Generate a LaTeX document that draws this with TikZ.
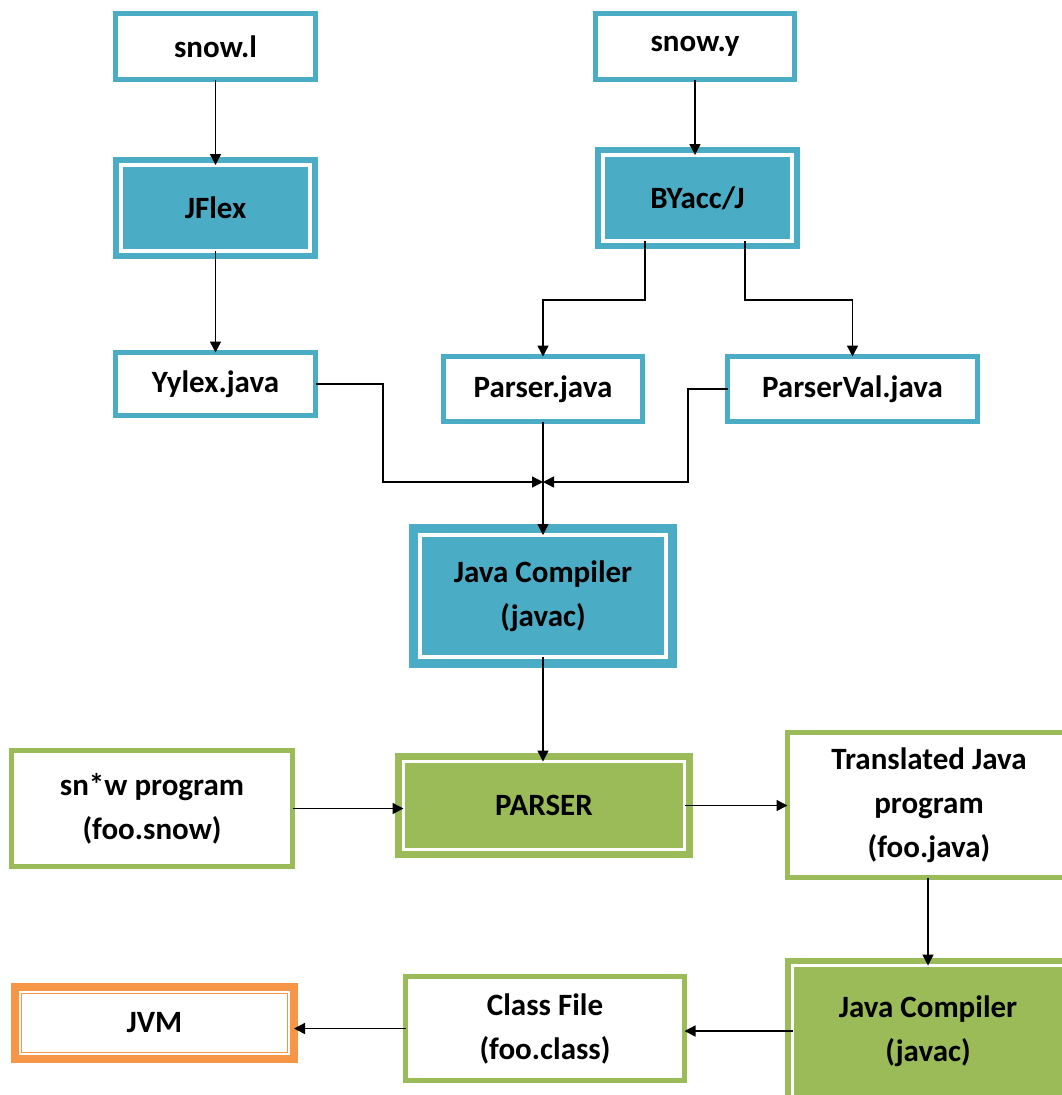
\documentclass[tikz,border=0pt]{standalone}
\usepackage{fontspec}
\setmainfont{Carlito}
\usetikzlibrary{arrows.meta}
\definecolor{teal1}{HTML}{4BACC6}
\definecolor{green1}{HTML}{9BBB59}
\definecolor{orange1}{HTML}{F79646}
\begin{document}
\begin{tikzpicture}[x=1pt,y=-1pt,
  every node/.style={font=\fontsize{31}{44}\selectfont\bfseries, align=center, inner sep=0pt, outer sep=0pt},
  plainbox/.style={draw=#1, fill=white, line width=5pt},
  dblbox/.style={draw=#1, fill=#1, double=white, line width=6pt, double distance=4pt},
  arr/.style={-{Triangle[length=11pt,width=11pt]}, line width=1.4pt, black}]
\clip (0,0) rectangle (1062,1095);
\fill[white] (0,0) rectangle (1062,1095);
% top row
\node[plainbox=teal1, minimum width=200pt, minimum height=66pt] (snowl) at (215.5,46.5) {snow.l};
\node[plainbox=teal1, minimum width=199pt, minimum height=66pt] (snowy) at (695,46.5) {snow.y};
% generators
\node[dblbox=teal1, minimum width=189pt, minimum height=86pt] (jflex) at (215.5,208) {JFlex};
\node[dblbox=teal1, minimum width=189pt, minimum height=86pt] (byacc) at (697.5,198) {BYacc/J};
% generated files
\node[plainbox=teal1, minimum width=200pt, minimum height=63pt] (yylex) at (215.5,384) {Yylex.java};
\node[plainbox=teal1, minimum width=199pt, minimum height=65pt] (parserj) at (543,389) {Parser.java};
\node[plainbox=teal1, minimum width=250pt, minimum height=65pt] (parserval) at (852.5,389) {ParserVal.java};
% java compiler 1
\node[dblbox=teal1, line width=9pt, minimum width=246pt, minimum height=122pt] (jc1) at (543,596) {Java Compiler\\(javac)};
% parser row
\node[plainbox=green1, minimum width=281pt, minimum height=116pt] (snw) at (152,808.5) {sn*w program\\(foo.snow)};
\node[dblbox=green1, line width=7pt, double distance=3pt, minimum width=281pt, minimum height=88pt] (parser) at (544,805.5) {PARSER};
\node[plainbox=green1, minimum width=283pt, minimum height=145pt] (trans) at (929,805) {Translated Java\\program\\(foo.java)};
% bottom row
\node[dblbox=green1, double distance=3pt, minimum width=271pt, minimum height=131pt] (jc2) at (928,1031) {Java Compiler\\(javac)};
\node[plainbox=green1, minimum width=279pt, minimum height=104pt] (classf) at (545,1028.5) {Class File\\(foo.class)};
\node[draw=orange1, fill=white, line width=8pt, minimum width=279pt, minimum height=72pt] (jvm) at (154.5,1023) {JVM};
\draw[orange1, line width=1.5pt] ([shift={(6.5pt,-6.5pt)}]jvm.north west) rectangle ([shift={(-6.5pt,6.5pt)}]jvm.south east);
% connectors
\coordinate (bl) at (645,300);
\coordinate (br) at (745,300);
\coordinate (m) at (543,482);
\coordinate (yl) at (383,482);
\coordinate (pv) at (688,482);
\draw[arr] (snowl.south) -- (jflex.north);
\draw[arr] (snowy.south) -- (snowy.south |- byacc.north);
\draw[arr] (jflex.south) -- (yylex.north);
\draw[arr] (byacc.south -| bl) -- (bl) -| (parserj.north);
\draw[arr] (byacc.south -| br) -- (br) -| (parserval.north);
\draw[arr] (yylex.east) -| (yl) -- (m);
\draw[arr] (parserval.west) -| (pv) -- (m);
\draw[arr] (parserj.south) -- (jc1.north);
\draw[arr] (jc1.south) -- (jc1.south |- parser.north);
\draw[arr] (snw.east) -- (snw.east -| parser.west);
\draw[arr] (parser.east) -- (parser.east -| trans.west);
\draw[arr] (trans.south -| jc2.north) -- (jc2.north);
\draw[arr] (jc2.west) -- (jc2.west -| classf.east);
\draw[arr] (classf.west) -- (classf.west -| jvm.east);
\end{tikzpicture}
\end{document}
